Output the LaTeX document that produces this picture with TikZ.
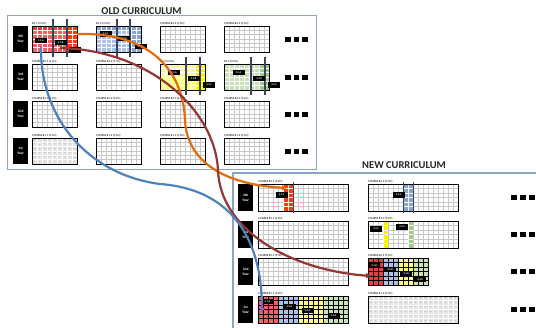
\documentclass[tikz,border=0pt]{standalone}
\usepackage{fontspec}
\setmainfont{Carlito}
\usetikzlibrary{arrows.meta}
\definecolor{framec}{RGB}{141,165,196}
\definecolor{gridc}{RGB}{200,200,200}
\definecolor{pinkr}{RGB}{245,95,98}
\definecolor{redd}{RGB}{236,60,60}
\definecolor{orr}{RGB}{250,60,15}
\definecolor{lblue}{RGB}{172,193,232}
\definecolor{dblue}{RGB}{135,163,218}
\definecolor{lyel}{RGB}{255,252,130}
\definecolor{byel}{RGB}{255,240,0}
\definecolor{lgreen}{RGB}{200,225,185}
\definecolor{dgreen}{RGB}{160,203,135}
\definecolor{barc}{RGB}{55,70,90}
\definecolor{numc}{RGB}{228,228,228}
\definecolor{corange}{RGB}{228,108,10}
\definecolor{cred}{RGB}{150,54,52}
\definecolor{cblue}{RGB}{79,129,189}
\tikzset{
  boxb/.style={draw=black,line width=0.9pt,inner sep=0pt,outer sep=0pt,anchor=north west},
  clab/.style={font=\fontsize{3}{3}\selectfont\bfseries,text=black!75,inner sep=0pt,anchor=south west},
  lbl/.style={fill=black,text=white,font=\fontsize{2.6}{3}\selectfont\bfseries,inner sep=0.6pt,minimum width=12pt,minimum height=5.5pt},
  yearbox/.style={fill=black,text=white,font=\fontsize{3.6}{5}\selectfont\bfseries,align=center,inner sep=0pt,anchor=north west,minimum width=15pt},
  barline/.style={barc,line width=1.7pt},
  thinbar/.style={barc,line width=0.9pt},
  framebox/.style={draw=framec,line width=1.1pt,inner sep=0pt,anchor=north west},
  title/.style={font=\fontsize{10.5}{12}\selectfont\bfseries,text=black!85,inner sep=0pt},
  dots/.style={fill=black,minimum width=5.5pt,minimum height=5.5pt,inner sep=0pt},
  numl/.style={font=\fontsize{1.5}{1.5}\selectfont,text=black!60,inner sep=0pt},
  curve/.style={line width=2.2pt,-{Triangle[length=5pt,width=5pt]}}
}
% grid: x0 y0 cols rows cellh
\newcommand\GB[5]{%
  \fill[white] (#1,#2) rectangle ++({5*#3},{#5*#4});
  \pgfmathtruncatemacro\GBnc{#3-1}%
  \pgfmathtruncatemacro\GBnr{#4-1}%
  \foreach \ii in {1,...,\GBnc} \draw[gridc,line width=0.6pt] ({#1+5*\ii},#2) -- ++(0,{#5*#4});
  \foreach \jj in {1,...,\GBnr} \draw[gridc,line width=0.6pt] (#1,{#2+#5*\jj}) -- ++({5*#3},0);
}
% coloured cells: x0 y0 c1 c2 r1 r2 cellh colour gapcolour
\newcommand\CCg[9]{%
  \fill[#9] ({#1+5*(#3-1)},{#2+#7*(#5-1)}) rectangle ({#1+5*#4},{#2+#7*#6});
  \foreach \ci in {#3,...,#4}{\foreach \ri in {#5,...,#6}{
    \fill[#8] ({#1+5*(\ci-1)+0.5},{#2+#7*(\ri-1)+0.5}) rectangle ++(4,{#7-1});}}
}
\newcommand\CC[8]{\CCg{#1}{#2}{#3}{#4}{#5}{#6}{#7}{#8}{white}}
\newcommand\CCb[8]{\CCg{#1}{#2}{#3}{#4}{#5}{#6}{#7}{#8}{black}}
% numbered cells: x0 y0 cols rows cellh tag
\newcommand\NUMS[6]{%
  \fill[white] (#1,#2) rectangle ++({5*#3},{#5*#4});
  \foreach \ci in {1,...,#3}{\foreach \ri in {1,...,#4}{
    \fill[numc] ({#1+5*(\ci-1)+0.5},{#2+#5*(\ri-1)+0.5}) rectangle ++(4,{#5-1});
    \pgfmathtruncatemacro\nn{(#4-\ri)*#3+\ci}
    \node[numl] (#6-\ci-\ri) at ({#1+5*(\ci-1)+2.5},{#2+#5*(\ri-0.5)}) {\nn};}}
}
% border + course label: name x0 y0 width height label
\newcommand\BD[6]{%
  \node[boxb,minimum width=#4pt,minimum height=#5pt] (#1) at (#2,#3) {};
  \node[clab] (#1l) at ({#2},{#3-0.7}) {#6};
}
\begin{document}
\begin{tikzpicture}[x=1pt,y=-1pt]
\useasboundingbox (0,0) rectangle (536,327);
\fill[white] (0,0) rectangle (536,327);
% frames
\node[framebox,minimum width=309pt,minimum height=154pt] (oldframe) at (7,15) {};
\coordinate (nf1) at (233,330);
\coordinate (nf2) at (233,173);
\coordinate (nf3) at (540,173);
\draw[framec,line width=1.1pt] (nf1) -- (nf2) -- (nf3);
\node[title] (oldtitle) at (141.5,11.5) {OLD CURRICULUM};
\node[title] (newtitle) at (404,165.5) {NEW CURRICULUM};

% ---------- OLD grids ----------
\def\oh{4.3333}
\foreach \xx in {32,96,160,224}{\foreach \yy in {26,64,101}{\GB{\xx}{\yy}{9}{6}{\oh}}}
\foreach \xx in {96,160,224}{\GB{\xx}{138}{9}{6}{\oh}}
\NUMS{32}{138}{9}{6}{\oh}{on}
% coloured old boxes
\CC{32}{26}{1}{7}{1}{6}{\oh}{pinkr}
\CC{32}{26}{1}{7}{1}{1}{\oh}{redd}
\CC{32}{26}{8}{9}{1}{6}{\oh}{orr}
\CC{96}{26}{1}{7}{1}{6}{\oh}{lblue}
\CC{96}{26}{1}{7}{1}{1}{\oh}{dblue}
\CC{96}{26}{8}{9}{1}{6}{\oh}{dblue}
\CC{160}{64}{1}{7}{1}{6}{\oh}{lyel}
\CC{160}{64}{8}{9}{1}{6}{\oh}{byel}
\CC{224}{64}{1}{7}{1}{6}{\oh}{lgreen}
\CC{224}{64}{8}{9}{1}{6}{\oh}{dgreen}
% borders and course labels
\BD{o41}{32}{26}{45}{26}{\#4.1 (3 CH)}
\BD{o42}{96}{26}{45}{26}{\#4.2 (3 CH)}
\BD{o43}{160}{26}{45}{26}{COURSE \#4.3 (3 CH)}
\BD{o44}{224}{26}{45}{26}{COURSE \#4.4 (3 CH)}
\BD{o31}{32}{64}{45}{26}{COURSE \#3.1 (3 CH)}
\BD{o32}{96}{64}{45}{26}{COURSE \#3.2 (3 CH)}
\BD{o33}{160}{64}{45}{26}{\#3.3 (3 CH)}
\BD{o34}{224}{64}{45}{26}{\#3.4 (3 CH)}
\BD{o21}{32}{101}{45}{26}{COURSE \#2.1 (3 CH)}
\BD{o22}{96}{101}{45}{26}{COURSE \#2.2 (3 CH)}
\BD{o23}{160}{101}{45}{26}{COURSE \#2.3 (3 CH)}
\BD{o24}{224}{101}{45}{26}{COURSE \#2.4 (3 CH)}
\BD{o11}{32}{138}{45}{26}{COURSE \#1.1 (3 CH)}
\BD{o12}{96}{138}{45}{26}{COURSE \#1.2 (3 CH)}
\BD{o13}{160}{138}{45}{26}{COURSE \#1.3 (3 CH)}
\BD{o14}{224}{138}{45}{26}{COURSE \#1.4 (3 CH)}
% bars
\foreach \bx in {53,67,117,130}{\draw[barline] (\bx,19) -- (\bx,57);}
\foreach \bx in {186,200,251,265}{\draw[barline] (\bx,57) -- (\bx,95);}
% part labels
\node[lbl] (l41a) at (41,40.5) {4.1.A};
\node[lbl] (l41b) at (60.5,42.5) {4.1.B};
\node[lbl] (l41c) at (75,50) {4.1.C};
\node[lbl] (l42a) at (105.5,34) {4.2.A};
\node[lbl] (l42b) at (124,38.5) {4.2.B};
\node[lbl] (l42c) at (140.5,46.5) {4.2.C};
\node[lbl] (l33a) at (174,72.5) {3.3.A};
\node[lbl] (l33b) at (193.5,78.5) {3.3.B};
\node[lbl] (l33c) at (209,85) {3.3.C};
\node[lbl] (l34a) at (238.5,72.5) {3.4.A};
\node[lbl] (l34b) at (259,78.5) {3.4.B};
\node[lbl] (l34c) at (274,85) {3.4.C};
% year labels old
\node[yearbox,minimum height=26pt] (yo4) at (13,26) {4th\\Year};
\node[yearbox,minimum height=26pt] (yo3) at (13,64) {3rd\\Year};
\node[yearbox,minimum height=26pt] (yo2) at (13,101) {2nd\\Year};
\node[yearbox,minimum height=26pt] (yo1) at (13,138) {1st\\Year};
% dots old
\foreach \yy/\nm in {39.5/4,77.5/3,114.5/2,151.5/1}{
  \node[dots] (od\nm a) at (288,\yy) {};
  \node[dots] (od\nm b) at (296.5,\yy) {};
  \node[dots] (od\nm c) at (305,\yy) {};}

% ---------- NEW grids ----------
\def\nh{4.5}
\GB{258}{184}{18}{6}{\nh}
\GB{368}{184}{18}{6}{\nh}
\GB{258}{221}{18}{6}{\nh}
\GB{368}{221}{18}{6}{\nh}
\GB{258}{258}{18}{6}{\nh}
\GB{368}{258}{12}{6}{\nh}
\GB{258}{296}{18}{6}{\nh}
\NUMS{368}{296}{18}{6}{\nh}{nn}
\CC{258}{184}{6}{7}{1}{6}{\nh}{orr}
\CC{368}{184}{8}{9}{1}{6}{\nh}{dblue}
\CC{368}{221}{4}{4}{1}{6}{\nh}{byel}
\CC{368}{221}{9}{9}{1}{6}{\nh}{dgreen}
\CCb{368}{258}{1}{3}{1}{6}{\nh}{redd}
\CCb{368}{258}{4}{6}{1}{6}{\nh}{lblue}
\CCb{368}{258}{7}{9}{1}{6}{\nh}{lyel}
\CCb{368}{258}{10}{12}{1}{6}{\nh}{lgreen}
\CCb{258}{296}{1}{4}{1}{6}{\nh}{pinkr}
\CCb{258}{296}{5}{8}{1}{6}{\nh}{lblue}
\CCb{258}{296}{9}{13}{1}{6}{\nh}{lyel}
\CCb{258}{296}{14}{18}{1}{6}{\nh}{lgreen}
\BD{n41}{258}{184}{90}{27}{COURSE \#4.1 (9 CH)}
\BD{n42}{368}{184}{90}{27}{COURSE \#4.2 (9 CH)}
\BD{n31}{258}{221}{90}{27}{COURSE \#3.1 (9 CH)}
\BD{n32}{368}{221}{90}{27}{COURSE \#3.2 (9 CH)}
\BD{n21}{258}{258}{90}{27}{COURSE \#2.1 (9 CH)}
\BD{n22}{368}{258}{60}{27}{COURSE \#2.2 (9 CH)}
\BD{n11}{258}{296}{90}{27}{COURSE \#1.1 (9 CH)}
\BD{n12}{368}{296}{90}{27}{COURSE \#1.2 (9 CH)}
\draw[thinbar] (293,182) -- (293,213);
\draw[thinbar] (403,182) -- (403,213);
\draw[thinbar] (413,182) -- (413,213);
\node[lbl] (m41c) at (281.5,195) {4.1.C};
\node[lbl] (m42c) at (398.5,195) {4.2.C};
\node[lbl] (m33c) at (376,229) {3.3.C};
\node[lbl] (m34c) at (402,227) {3.4.C};
\node[lbl] (m41b) at (374,265.5) {4.1.B};
\node[lbl] (m42b) at (390,269.5) {4.2.B};
\node[lbl] (m33b) at (406,273.5) {3.3.B};
\node[lbl] (m34b) at (420,279.5) {3.4.B};
\node[lbl] (m41a) at (267.5,301.5) {4.1.A};
\node[lbl] (m42a) at (289.5,306.5) {4.2.A};
\node[lbl] (m33a) at (307.5,310.5) {3.3.A};
\node[lbl] (m34a) at (333.5,316) {3.4.A};
\node[yearbox,minimum height=27pt] (yn4) at (238,184) {4th\\Year};
\node[yearbox,minimum height=27pt] (yn3) at (238,221) {3rd\\Year};
\node[yearbox,minimum height=27pt] (yn2) at (238,258) {2nd\\Year};
\node[yearbox,minimum height=27pt] (yn1) at (238,296) {1st\\Year};
\foreach \yy/\nm in {197.5/4,234.5/3,271.5/2,309.5/1}{
  \node[dots] (nd\nm a) at (514,\yy) {};
  \node[dots] (nd\nm b) at (523,\yy) {};
  \node[dots] (nd\nm c) at (532,\yy) {};}

% ---------- curves ----------
\coordinate (oS) at (77,34);
\coordinate (oE) at (287,188);
\coordinate (rS) at (60,48);
\coordinate (rE) at (371,276);
\coordinate (bS) at (41,47);
\coordinate (bE) at (262,313);
\draw[curve,corange] (oS) .. controls (150,32) and (183,70) .. (185,120) .. controls (187,165) and (230,185) .. (oE);
\draw[curve,cred] (rS) .. controls (150,50) and (215,110) .. (218,170) .. controls (220,230) and (290,270) .. (rE);
\draw[curve,cblue] (bS) .. controls (40,120) and (90,175) .. (160,184) .. controls (240,190) and (262,250) .. (bE);
\end{tikzpicture}
\end{document}
